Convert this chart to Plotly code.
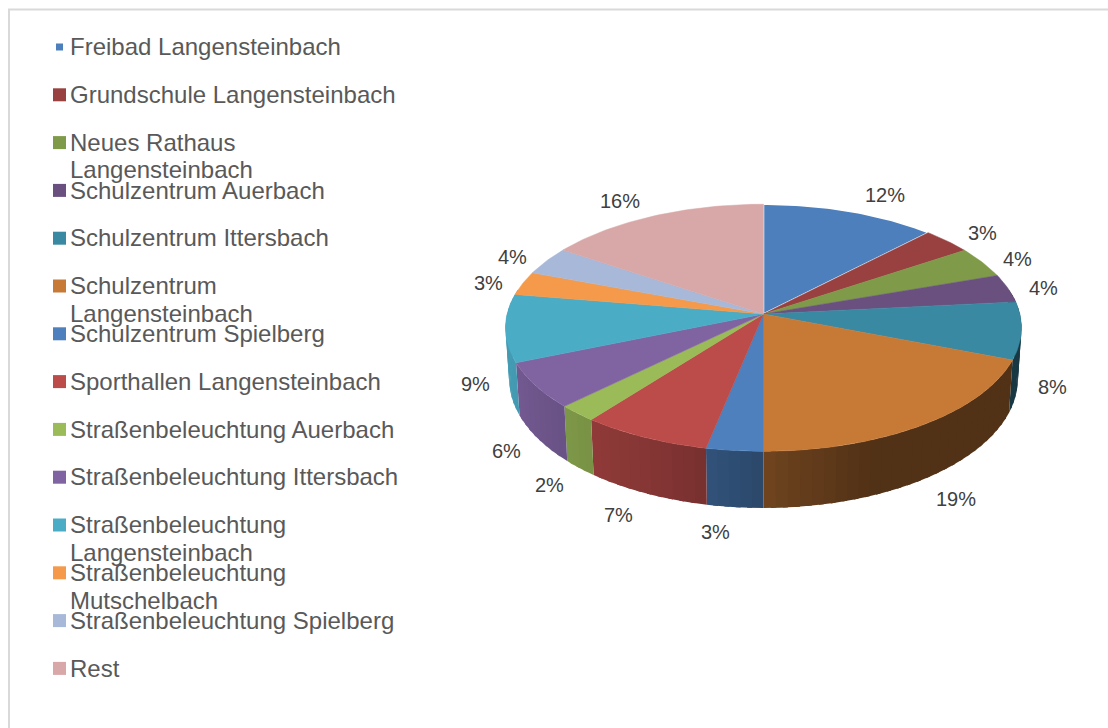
import numpy as np
import plotly.graph_objects as go

# ---------- data ----------
categories = [
    "Freibad Langensteinbach", "Grundschule Langensteinbach",
    "Neues Rathaus Langensteinbach", "Schulzentrum Auerbach",
    "Schulzentrum Ittersbach", "Schulzentrum Langensteinbach",
    "Schulzentrum Spielberg", "Sporthallen Langensteinbach",
    "Straßenbeleuchtung Auerbach", "Straßenbeleuchtung Ittersbach",
    "Straßenbeleuchtung Langensteinbach", "Straßenbeleuchtung Mutschelbach",
    "Straßenbeleuchtung Spielberg", "Rest",
]
shares = [12.2, 3.45, 4.05, 3.7, 7.5, 19.1, 3.2, 7.3, 2.2, 6.05, 8.85, 3.1, 3.7, 15.6]

# ---------- styles ----------
colors = ["#4c7fbb", "#984140", "#7f9a48", "#69507f", "#3a89a3", "#c77936", "#4d80bd",
          "#bb4c4a", "#9bbb59", "#8064a2", "#4bacc6", "#f59a4b", "#a8b8d8", "#d8a7a7"]
wrapped = {"Neues Rathaus Langensteinbach", "Schulzentrum Langensteinbach",
           "Straßenbeleuchtung Langensteinbach", "Straßenbeleuchtung Mutschelbach"}
FONT = "Liberation Sans"
LEGEND_SIZE = 24
LABEL_SIZE = 20

# perspective projection of the pie disc onto the page
CX, P = 763.5, 0.1115
TOP = dict(A=256.4, B=122.0, Y0=314.0)
BOTTOM = dict(A=252.8, B=127.3, Y0=364.7)


def project(theta_deg, face):
    t = np.radians(theta_deg)
    u, v = np.sin(t), np.cos(t)
    w = 1 + P * v
    return CX + face["A"] * u / w, face["Y0"] - face["B"] * v / w


def shade(color, x):
    k = np.interp(x, [510, 560, 600, 700, 763, 870], [0.9, 0.82, 0.76, 0.65, 0.56, 0.41])
    r, g, b = (int(color[i:i + 2], 16) for i in (1, 3, 5))
    return f"rgb({r * k:.0f},{g * k:.0f},{b * k:.0f})"


edges = np.concatenate([[0], np.cumsum(shares)]) / sum(shares) * 360
fig = go.Figure()

# side wall, drawn in shaded strips; each strip runs under the next one so no seams show
for i, color in enumerate(colors):
    a0, a1 = max(edges[i], 78), min(edges[i + 1], 282)
    if a1 <= a0:
        continue
    n = max(1, int(np.ceil((a1 - a0) / 2.5)))
    steps = np.linspace(a0, a1, n + 1)
    for s0, s1 in zip(steps[:-1], steps[1:]):
        arc = np.linspace(s0, min(s1 + 1.0, a1), 5)
        xt, yt = project(arc, TOP)
        xb, yb = project(arc[::-1], BOTTOM)
        c = shade(color, float(np.mean(project(np.array([s0, s1]), TOP)[0])))
        fig.add_trace(go.Scatter(
            x=np.concatenate([xt, xb]), y=np.concatenate([yt, yb]),
            mode="lines", fill="toself", fillcolor=c, line=dict(width=0),
            hoverinfo="skip", showlegend=False))

# top faces
for i, (name, color) in enumerate(zip(categories, colors)):
    arc = np.linspace(edges[i], edges[i + 1], max(2, int(edges[i + 1] - edges[i]) + 2))
    xr, yr = project(arc, TOP)
    fig.add_trace(go.Scatter(
        x=np.concatenate([[CX], xr, [CX]]), y=np.concatenate([[TOP["Y0"]], yr, [TOP["Y0"]]]),
        mode="lines", fill="toself", fillcolor=color,
        line=dict(color="white" if i == 0 else color, width=1.5 if i == 0 else 0.5),
        name=name, text=f"{name}: {shares[i]:.0f}%", hoverinfo="text", showlegend=False))

# percentage labels outside the slices
annotations = []
for i, value in enumerate(shares):
    mid = (edges[i] + edges[i + 1]) / 2
    t = np.radians(mid)
    su, v = np.sin(t), np.cos(t)
    rx, ry = project(mid, TOP if 78 > mid or mid > 282 else BOTTOM)
    if v > 0 or su > 0:
        spread = np.clip(su * 5, -1, 1)
    else:
        spread = -abs(su) ** 0.25
    lx = rx + (1 if su > 0 else 0) + 34 * spread
    ly = ry + 2.5 - 12 * v - 10 * v ** 3 + (1 if v < 0 else 0)
    annotations.append(dict(x=lx, y=ly, text=f"{value / sum(shares) * 100:.0f}%", showarrow=False,
                            xanchor="center", yanchor="middle",
                            font=dict(family=FONT, size=LABEL_SIZE, color="#404040")))

# legend column
ROW0, ROW_STEP = 47.0, 47.8
rows = ROW0 + ROW_STEP * np.arange(len(categories))
fig.add_trace(go.Scatter(
    x=[59.5] * len(categories), y=rows, mode="markers",
    marker=dict(symbol="square", size=[7] + [13] * (len(categories) - 1), color=colors,
                opacity=1, line=dict(width=0)),
    text=categories, hoverinfo="text", showlegend=False))
for name, row in zip(categories, rows):
    lines = name.rsplit(" ", 1) if name in wrapped else [name]
    for j, line in enumerate(lines):
        annotations.append(dict(x=68, y=row - 0.3 + j * 27.5, text=line, showarrow=False,
                                xanchor="left", yanchor="middle",
                                font=dict(family=FONT, size=LEGEND_SIZE, color="#595959")))

fig.update_layout(
    width=1108, height=728, margin=dict(l=0, r=0, t=0, b=0),
    paper_bgcolor="white", plot_bgcolor="white", showlegend=False,
    xaxis=dict(range=[0, 1108], visible=False, fixedrange=True),
    yaxis=dict(range=[728, 0], visible=False, fixedrange=True),
    annotations=annotations,
    shapes=[dict(type="rect", xref="x", yref="y", x0=9, y0=9.5, x1=1130, y1=750,
                 line=dict(color="#d9d9d9", width=2), layer="below")],
)
fig.write_html("out.html", config=dict(displayModeBar=False),
               post_script="document.body.style.margin='0';document.body.style.overflow='hidden';")
